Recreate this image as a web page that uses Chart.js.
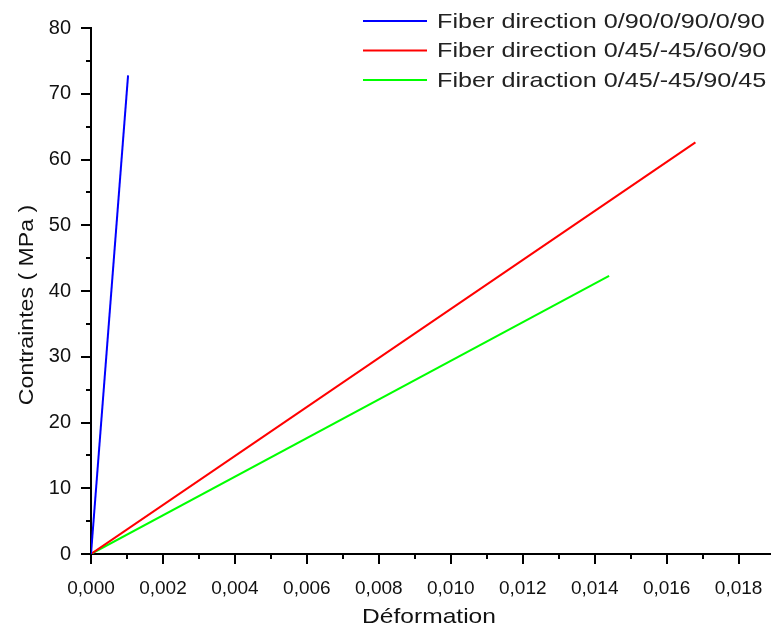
<!DOCTYPE html>
<html>
<head>
<meta charset="utf-8">
<script src="https://cdn.jsdelivr.net/npm/chart.js@4"></script>
<style>
  body { margin: 0; background: #fff; }
  #wrap { width: 771px; height: 630px; }
</style>
</head>
<body>
<div id="wrap"><canvas id="stressChart" width="771" height="630"></canvas></div>
<script>
// series labels
const seriesNames = ["Fiber direction 0/90/0/90/0/90", "Fiber direction 0/45/-45/60/90", "Fiber diraction 0/45/-45/90/45"];
const seriesColors = ["#0000ff", "#ff0000", "#00ff00"];

// strain (x) and stress in MPa (y)
const strainA = [0, 0.00103];
const stressA = [0, 72.8];
const strainB = [0, 0.0168];
const stressB = [0, 62.6];
const strainC = [0, 0.01440];
const stressC = [0, 42.3];

// tick labels
const xTicks = [0, 0.002, 0.004, 0.006, 0.008, 0.010, 0.012, 0.014, 0.016, 0.018];
const yTicks = [0, 10, 20, 30, 40, 50, 60, 70, 80];
const xTitle = 'Déformation';
const yTitle = 'Contraintes ( MPa )';

function points(xs, ys) {
  return xs.map((x, i) => ({ x: x, y: ys[i] }));
}

// the source picture looks a bit wider than normal Arial, so stretch text horizontally
function stretchedText(ctx, text, x, y, sx, align) {
  const w = ctx.measureText(text).width * sx;
  let left = x;
  if (align === 'center') left = x - w / 2;
  ctx.save();
  ctx.translate(left, y);
  ctx.scale(sx, 1);
  ctx.textAlign = 'left';
  ctx.fillText(text, 0, 0);
  ctx.restore();
}

// ticks (major + minor), axis titles and legend
const extras = {
  id: 'extras',
  afterDraw(chart) {
    const ctx = chart.ctx;
    const xs = chart.scales.x, ys = chart.scales.y;
    const area = chart.chartArea;
    ctx.save();
    ctx.strokeStyle = '#000';
    ctx.lineWidth = 2;
    ctx.beginPath();
    for (let i = 0; i < xTicks.length * 2 - 1; i++) {
      const v = i * (xTicks[1] - xTicks[0]) / 2;
      const px = Math.round(xs.getPixelForValue(v));
      const len = i % 2 === 0 ? 10 : 5;
      ctx.moveTo(px, area.bottom);
      ctx.lineTo(px, area.bottom + len);
    }
    for (let i = 0; i < yTicks.length * 2 - 1; i++) {
      const v = i * (yTicks[1] - yTicks[0]) / 2;
      const py = Math.round(ys.getPixelForValue(v));
      const len = i % 2 === 0 ? 10 : 5;
      ctx.moveTo(area.left, py);
      ctx.lineTo(area.left - len, py);
    }
    ctx.stroke();

    ctx.fillStyle = '#111';
    ctx.textBaseline = 'middle';
    ctx.font = '21px "Liberation Sans", Arial, sans-serif';
    stretchedText(ctx, xTitle, 429, 617, 1.17, 'center');
    ctx.save();
    ctx.translate(27, 305);
    ctx.rotate(-Math.PI / 2);
    stretchedText(ctx, yTitle, 0, 0, 1.1, 'center');
    ctx.restore();

    // legend
    ctx.font = '21px "Liberation Sans", Arial, sans-serif';
    ctx.fillStyle = '#222';
    chart.data.datasets.forEach((ds, i) => {
      const y = 21 + i * 29.5;
      ctx.strokeStyle = ds.borderColor;
      ctx.lineWidth = 2;
      ctx.beginPath();
      ctx.moveTo(363, y);
      ctx.lineTo(427, y);
      ctx.stroke();
      stretchedText(ctx, ds.label, 437, y + 1, 1.2, 'left');
    });
    ctx.restore();
  }
};

const fmt = v => v.toFixed(3).replace('.', ',');

new Chart(document.getElementById("stressChart"), {
  type: 'scatter',
  data: {
    datasets: [{
      label: seriesNames[0],
      data: points(strainA, stressA),
      borderColor: seriesColors[0],
      showLine: true
    }, {
      label: seriesNames[1],
      data: points(strainB, stressB),
      borderColor: seriesColors[1],
      showLine: true
    }, {
      label: seriesNames[2],
      data: points(strainC, stressC),
      borderColor: seriesColors[2],
      showLine: true
    }]
  },
  options: {
    responsive: false,
    animation: false,
    layout: { padding: { top: 28, right: 0, left: 0, bottom: 0 } },
    elements: {
      point: { radius: 0 },
      line: { borderWidth: 2, tension: 0 }
    },
    plugins: {
      legend: { display: false },
      tooltip: { enabled: false }
    },
    scales: {
      x: {
        type: 'linear',
        min: 0,
        max: 0.0189,
        afterBuildTicks: s => { s.ticks = xTicks.map(v => ({ value: v })); },
        afterFit: s => { s.height = 76; s.paddingRight = 0; s.paddingLeft = 0; },
        grid: { display: false },
        border: { display: true, color: '#000', width: 2 },
        ticks: {
          padding: 15,
          maxRotation: 0,
          color: '#111',
          font: { family: '"Liberation Sans", Arial', size: 19 },
          callback: v => fmt(v)
        }
      },
      y: {
        min: 0,
        max: 80,
        afterBuildTicks: s => { s.ticks = yTicks.map(v => ({ value: v })); },
        afterFit: s => { s.width = 91; },
        grid: { display: false },
        border: { display: true, color: '#000', width: 2 },
        ticks: {
          padding: 12,
          color: '#111',
          font: { family: '"Liberation Sans", Arial', size: 20 }
        }
      }
    }
  },
  plugins: [extras]
});
</script>
</body>
</html>
